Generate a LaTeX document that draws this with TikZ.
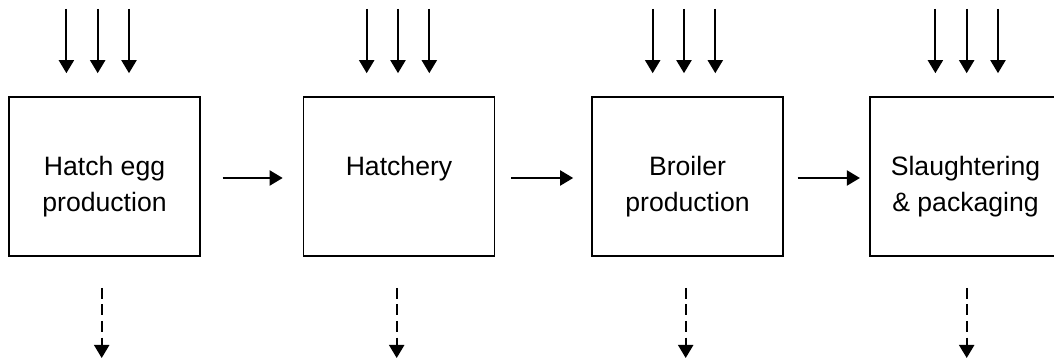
\documentclass[tikz,border=0pt]{standalone}
\usepackage{fontspec}
\setmainfont{Liberation Sans}
\usetikzlibrary{arrows.meta,positioning}

\begin{document}
\begin{tikzpicture}[x=0.5pt,y=-0.5pt,>={Triangle[length=6.5pt,width=7.5pt]},
    stage/.style={draw,line width=0.8pt,minimum width=95.5pt,minimum height=79.5pt},
    stagetext/.style={align=center,inner sep=0pt,font=\fontsize{13.3}{18}\selectfont},
    flow/.style={->,line width=1pt},
    waste/.style={->,line width=1pt,dash pattern=on 5.5pt off 2.8pt}]
    \path[use as bounding box,clip] (0,0) rectangle (1054,362);
    \foreach \x/\a/\d/\t [count=\n] in {104.5/97.7/101.7/{Hatch egg\\production},399/398/396.7/Hatchery,687.5/684/685.7/{Broiler\\production},965.5/966.7/966.7/{Slaughtering\\\& packaging}}
    {
        \node[stage] (b\n) at (\x,176.5) {};
        \node[stagetext,below=30pt of b\n.north] (t\n) {\t};
        % inputs
        \foreach \k in {1,2,3} {
            \coordinate (in\n\k) at (\a+31.3*\k-62.6,9);
            \draw[flow,shorten >=11.5pt] (in\n\k) -- (in\n\k |- b\n.north);
        }
        % outputs
        \coordinate (out\n) at (\d,358);
        \draw[waste,shorten <=15.5pt] (out\n |- b\n.south) -- (out\n);
    }
    \draw[flow,shorten <=10.85pt,shorten >=10pt] ([yshift=-0.75pt]b1.east) -- ([yshift=-0.75pt]b2.west);
    \draw[flow,shorten <=7.85pt,shorten >=9pt] ([yshift=-0.75pt]b2.east) -- ([yshift=-0.75pt]b3.west);
    \draw[flow,shorten <=6.85pt,shorten >=4.65pt] ([yshift=-0.75pt]b3.east) -- ([yshift=-0.75pt]b4.west);
\end{tikzpicture}
\end{document}
